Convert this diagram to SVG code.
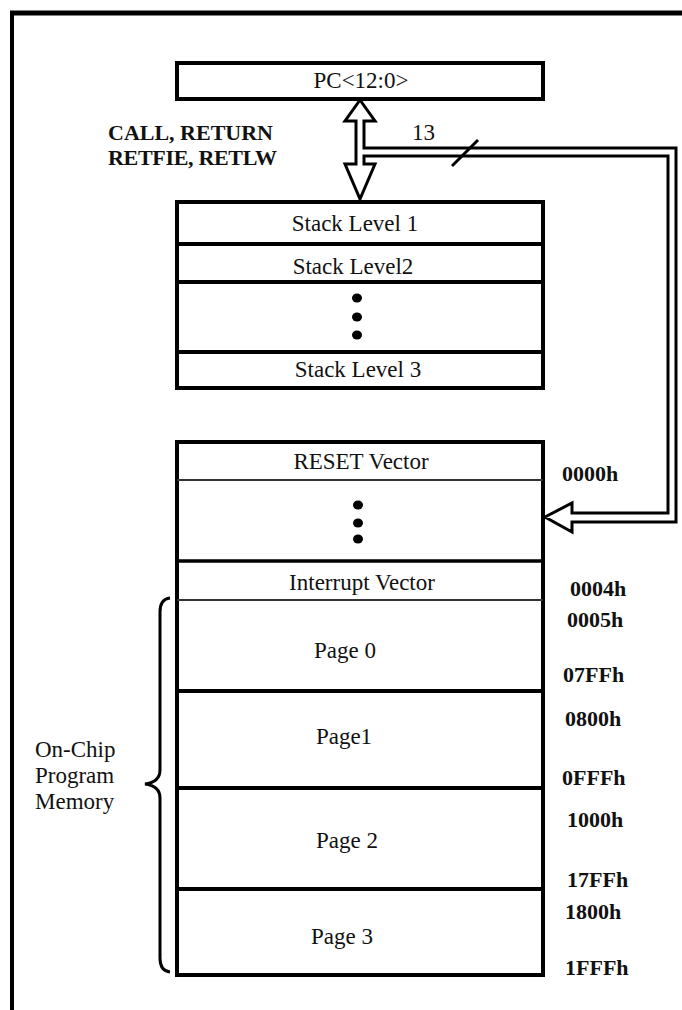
<svg xmlns="http://www.w3.org/2000/svg" width="682" height="1010" viewBox="0 0 682 1010">
<style>
.t{font-family:"Liberation Serif","Times New Roman",serif;font-size:23px;fill:#111}
.c{text-anchor:middle}
.b{font-weight:bold;font-size:22px}
.box{fill:#fff;stroke:#000;stroke-width:4}
.div{stroke:#000;stroke-width:4}
.thin{stroke:#333;stroke-width:2}
.dot{fill:#000}
</style>
<rect width="682" height="1010" fill="#fff"/>
<g id="frame">
<line x1="10" y1="13" x2="682" y2="13" stroke="#000" stroke-width="5"/>
<line x1="12" y1="11" x2="12" y2="1010" stroke="#000" stroke-width="4"/>
</g>
<g id="connectors">
<path d="M360,100 L375,121 L364,121 L364,148 L676,148 L676,522 L572,522 L572,532 L545,517 L572,503 L572,513 L668,513 L668,156 L364,156 L364,164 L375,164 L360,199 L345,164 L356,164 L356,121 L345,121 Z" fill="#fff" stroke="#000" stroke-width="3" stroke-linejoin="miter"/>
<line x1="452" y1="166" x2="478" y2="140" stroke="#000" stroke-width="3"/>
<text class="t" x="412" y="140">13</text>
<text class="t b" x="108" y="140" textLength="165">CALL, RETURN</text>
<text class="t b" x="108" y="165" textLength="169">RETFIE, RETLW</text>
</g>
<g id="pc">
<rect class="box" x="177" y="63" width="366" height="36"/>
<line class="div" x1="175" y1="99" x2="545" y2="99"/>
<text class="t c" x="361" y="88">PC&lt;12:0&gt;</text>
</g>
<g id="stack">
<rect class="box" x="177" y="202" width="366" height="186"/>
<line class="div" x1="177" y1="244" x2="543" y2="244"/>
<line class="div" x1="177" y1="282" x2="543" y2="282"/>
<line class="div" x1="177" y1="352" x2="543" y2="352"/>
<text class="t c" x="355" y="231">Stack Level 1</text>
<text class="t c" x="353" y="274">Stack Level2</text>
<text class="t c" x="358" y="377">Stack Level 3</text>
<ellipse class="dot" cx="357" cy="298" rx="5" ry="4.5"/>
<ellipse class="dot" cx="357" cy="317" rx="5" ry="4.5"/>
<ellipse class="dot" cx="357" cy="335" rx="5" ry="4.5"/>
</g>
<g id="memory">
<rect class="box" x="177" y="442" width="366" height="533"/>
<line class="div" x1="175" y1="442" x2="545" y2="442" stroke-width="5"/>
<line class="thin" x1="177" y1="480" x2="543" y2="480"/>
<line class="div" x1="177" y1="561" x2="543" y2="561" style="stroke-width:3.5"/>
<line class="thin" x1="177" y1="600" x2="543" y2="600"/>
<line class="div" x1="177" y1="691" x2="543" y2="691"/>
<line class="div" x1="177" y1="788" x2="543" y2="788"/>
<line class="div" x1="177" y1="889" x2="543" y2="889"/>
<text class="t c" x="361" y="469">RESET Vector</text>
<ellipse class="dot" cx="358" cy="505" rx="5" ry="4.5"/>
<ellipse class="dot" cx="358" cy="523" rx="5" ry="4.5"/>
<ellipse class="dot" cx="358" cy="539" rx="5" ry="4.5"/>
<text class="t c" x="362" y="590">Interrupt Vector</text>
<text class="t c" x="345" y="658">Page 0</text>
<text class="t c" x="344" y="744">Page1</text>
<text class="t c" x="347" y="848">Page 2</text>
<text class="t c" x="342" y="944">Page 3</text>
</g>
<g id="addresses">
<text class="t b" x="562" y="481">0000h</text>
<text class="t b" x="570" y="596">0004h</text>
<text class="t b" x="567" y="627">0005h</text>
<text class="t b" x="563" y="682">07FFh</text>
<text class="t b" x="565" y="726">0800h</text>
<text class="t b" x="562" y="785">0FFFh</text>
<text class="t b" x="567" y="827">1000h</text>
<text class="t b" x="567" y="887">17FFh</text>
<text class="t b" x="565" y="919">1800h</text>
<text class="t b" x="565" y="975">1FFFh</text>
</g>
<g id="brace">
<path d="M170,598 Q160,599 160,612 L160,770 Q160,782 145,784 Q160,786 160,798 L160,958 Q160,971 170,972" fill="none" stroke="#000" stroke-width="3"/>
<text class="t" x="35" y="757">On-Chip</text>
<text class="t" x="35" y="783">Program</text>
<text class="t" x="35" y="809">Memory</text>
</g>
</svg>
